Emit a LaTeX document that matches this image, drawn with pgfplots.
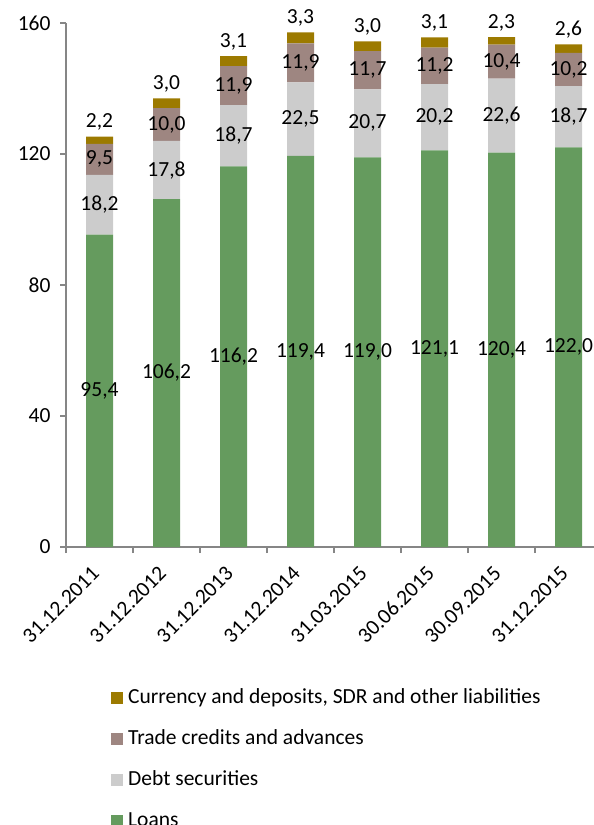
\documentclass[border=0pt]{standalone}
\usepackage{pgfplots}
\usepackage{pgfplotstable}
\pgfplotsset{compat=1.18}
\usepackage{fontspec}
\setmainfont{Carlito}
\definecolor{cCurr}{HTML}{9C7A00}
\definecolor{cTrade}{HTML}{9E8681}
\definecolor{cDebt}{HTML}{CCCCCC}
\definecolor{cLoans}{HTML}{659B5E}
\definecolor{axgray}{HTML}{868686}
\pgfplotstableread{
x loans debt trade curr
0 95.4 18.2 9.5 2.2
1 106.2 17.8 10.0 3.0
2 116.2 18.7 11.9 3.1
3 119.4 22.5 11.9 3.3
4 119.0 20.7 11.7 3.0
5 121.1 20.2 11.2 3.1
6 120.4 22.6 10.4 2.3
7 122.0 18.7 10.2 2.6
}\datatable
\pgfplotsset{
  /pgf/number format/assume math mode=true,
  common/.style={
    at={(66pt,278pt)}, anchor=south west,
    scale only axis, width=528pt, height=524pt,
    xmin=-0.5, xmax=7.38, ymin=0, ymax=160,
  },
  lbl/.style={only marks, mark=none, point meta=explicit,
    nodes near coords={\pgfmathprintnumber[fixed,fixed zerofill,precision=1,use comma]{\pgfplotspointmeta}},
    every node near coord/.append style={anchor=center, inner sep=0pt, text=black}},
}
\begin{document}
\begin{tikzpicture}[font=\fontsize{21.5}{25}\selectfont]
\useasboundingbox (0,0) rectangle (594pt,825pt);
\begin{axis}[common, ybar stacked, bar width=27pt,
  axis lines*=left,
  axis line style={axgray, line width=1.5pt},
  tick align=outside, tick pos=left,
  major tick length=6pt, minor tick length=6pt,
  ytick={0,40,80,120,160},
  every tick/.style={axgray, line width=1.5pt},
  xtick={0,...,7},
  xticklabels={31.12.2011,31.12.2012,31.12.2013,31.12.2014,31.03.2015,30.06.2015,30.09.2015,31.12.2015},
  major x tick style={draw=none},
  minor xtick={-0.5,0.5,...,7.5},
  minor x tick style={axgray, line width=1.5pt},
  xticklabel style={xshift=-4pt, yshift=-17pt, rotate=45, anchor=east, inner sep=0pt},
  yticklabel style={xshift=-6pt},
  legend style={at={(0.0852,-0.271)}, anchor=north west, draw=none, fill=none, inner sep=0pt,
    row sep=23pt, nodes={inner sep=0pt, text height=14pt, text depth=4pt},
    /tikz/every odd column/.append style={column sep=5pt}},
  legend cell align=left,
  reverse legend,
  legend image code/.code={\fill[#1] (0pt,-6pt) rectangle (12pt,6pt);},
]
\addplot[fill=cLoans, draw=none] table[x=x, y=loans] {\datatable};
\addplot[fill=cDebt, draw=none] table[x=x, y=debt] {\datatable};
\addplot[fill=cTrade, draw=none] table[x=x, y=trade] {\datatable};
\addplot[fill=cCurr, draw=none] table[x=x, y=curr] {\datatable};
\legend{Loans, Debt securities, Trade credits and advances, {Currency and deposits, SDR and other liabilities}}
\end{axis}
\begin{axis}[common, hide axis, clip=false]
\addplot[lbl] table[x=x, y expr=\thisrow{loans}/2, meta=loans] {\datatable};
\addplot[lbl] table[x=x, y expr=\thisrow{loans}+\thisrow{debt}/2, meta=debt] {\datatable};
\addplot[lbl] table[x=x, y expr=\thisrow{loans}+\thisrow{debt}+\thisrow{trade}/2, meta=trade] {\datatable};
\addplot[lbl, every node near coord/.append style={yshift=14.5pt}] table[x=x, y expr=\thisrow{loans}+\thisrow{debt}+\thisrow{trade}+\thisrow{curr}, meta=curr] {\datatable};
\end{axis}
\end{tikzpicture}
\end{document}
